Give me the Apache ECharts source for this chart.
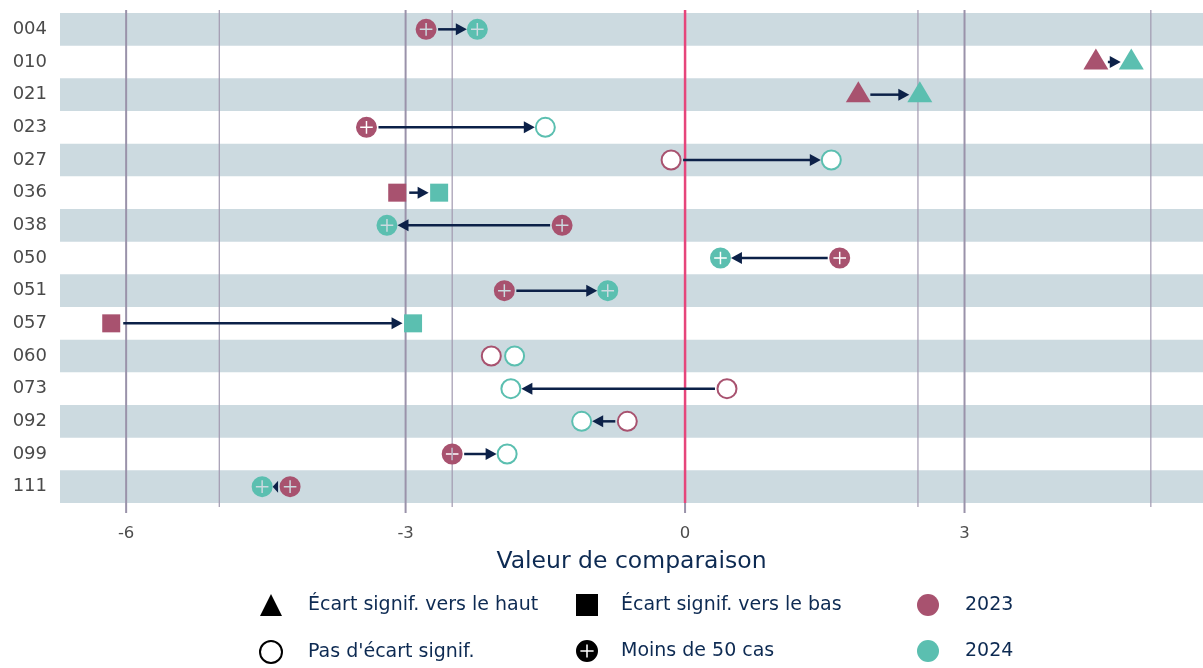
<!DOCTYPE html>
<html>
<head>
<meta charset="utf-8">
<script src="https://cdn.jsdelivr.net/npm/echarts@6/dist/echarts.min.js"></script>
<style>
    html, body { margin: 0; padding: 0; background: #fff; }
    #chart { width: 1203px; height: 668px; }
</style>
</head>
<body>
<div id="chart"></div>
<script>
    // données
    var categories = ['004', '010', '021', '023', '027', '036', '038', '050', '051', '057', '060', '073', '092', '099', '111'];
    var val2023 = [-2.78, 4.41, 1.86, -3.42, -0.15, -3.09, -1.32, 1.66, -1.94, -6.16, -2.08, 0.45, -0.62, -2.50, -4.24];
    var val2024 = [-2.23, 4.79, 2.52, -1.50, 1.57, -2.64, -3.20, 0.38, -0.83, -2.92, -1.83, -1.87, -1.11, -1.91, -4.54];
    // up = écart vers le haut, down = vers le bas, ns = pas d'écart, few = moins de 50 cas
    var type2023 = ['few', 'up', 'up', 'few', 'ns', 'down', 'few', 'few', 'few', 'down', 'ns', 'ns', 'ns', 'few', 'few'];
    var type2024 = ['few', 'up', 'up', 'ns', 'ns', 'down', 'few', 'few', 'few', 'down', 'ns', 'ns', 'ns', 'ns', 'few'];
    var tickValues = [-6, -3, 0, 3];
    var minorLines = [-5, -2.5, 2.5, 5];

    var col2023 = '#a8526f';
    var col2024 = '#5bbfb0';
    var arrowCol = '#0c2148';
    var fontFam = 'DejaVu Sans';
    var plusPath = 'path://M50,0A50,50,0,1,1,50,100A50,50,0,1,1,50,0Z' +
        'M46.5,20L46.5,46.5L20,46.5L20,53.5L46.5,53.5L46.5,80L53.5,80L53.5,53.5L80,53.5L80,46.5L53.5,46.5L53.5,20Z';

    var typeNames = {
        up: 'Écart signif. vers le haut',
        down: 'Écart signif. vers le bas',
        ns: "Pas d'écart signif.",
        few: 'Moins de 50 cas'
    };

    function markerItem(v, i, t, color) {
        var item = { value: [v, categories[i]] };
        if (t === 'up') {
            item.symbol = 'triangle';
            item.symbolSize = [25, 21];
            item.symbolOffset = [0, -3];
        } else if (t === 'down') {
            item.symbol = 'rect';
            item.symbolSize = 18;
        } else if (t === 'ns') {
            item.symbol = 'circle';
            item.symbolSize = 19;
            item.itemStyle = { color: '#fff', borderColor: color, borderWidth: 2, opacity: 1 };
        } else {
            item.symbol = plusPath;
            item.symbolSize = 21;
        }
        return item;
    }

    function buildMarkers(vals, types, color) {
        var out = [];
        for (var i = 0; i < vals.length; i++) {
            out.push(markerItem(vals[i], i, types[i], color));
        }
        return out;
    }

    var arrowData = [];
    for (var i = 0; i < categories.length; i++) {
        arrowData.push([val2023[i], val2024[i], i]);
    }

    var lineData = [];
    tickValues.forEach(function (v) { lineData.push([v, v === 0 ? 'zero' : 'major']); });
    minorLines.forEach(function (v) { lineData.push([v, 'minor']); });

    var chart = echarts.init(document.getElementById('chart'));

    var legendText = { color: '#0d2a52', fontSize: 19, fontFamily: fontFam };

    function legendBlock(left, items, gap) {
        return {
            left: left, top: 594, orient: 'vertical', itemGap: 24, padding: 0,
            itemWidth: 22, itemHeight: 22, selectedMode: false,
            data: items,
            textStyle: Object.assign({ padding: [0, 0, 0, gap] }, legendText)
        };
    }

    var black = { color: '#000', borderColor: '#000', opacity: 1 };
    var hollow = { color: '#fff', borderColor: '#000', borderWidth: 2, opacity: 1 };

    var option = {
        animation: false,
        textStyle: { fontFamily: fontFam },
        grid: { left: 60, right: 0, top: 13, bottom: 165 },
        xAxis: {
            type: 'value',
            min: -6.71,
            max: 5.56,
            name: 'Valeur de comparaison',
            nameLocation: 'middle',
            nameGap: 47,
            nameTextStyle: { color: '#0d2a52', fontSize: 23.5, fontFamily: fontFam },
            axisLine: { show: false },
            axisTick: { show: false },
            splitLine: { show: false },
            axisLabel: {
                customValues: tickValues,
                color: '#4d4d4d',
                fontSize: 16.5,
                margin: 22
            }
        },
        yAxis: {
            type: 'category',
            data: categories,
            inverse: true,
            axisLine: { show: false },
            axisTick: { show: false },
            splitLine: { show: false },
            splitArea: {
                show: true,
                areaStyle: { color: ['#ccdae0', 'rgba(255,255,255,0)'] }
            },
            axisLabel: { color: '#4a4a4a', fontSize: 18, margin: 13 }
        },
        legend: [
            legendBlock(259, [
                { name: typeNames.up, icon: 'triangle', itemStyle: black },
                { name: typeNames.ns, icon: 'circle', itemStyle: hollow }
            ], 21),
            legendBlock(576, [
                { name: typeNames.down, icon: 'rect', itemStyle: black },
                { name: typeNames.few, icon: plusPath, itemStyle: black }
            ], 18),
            legendBlock(917, [
                { name: '2023', icon: 'circle', itemStyle: { color: col2023, opacity: 1 } },
                { name: '2024', icon: 'circle', itemStyle: { color: col2024, opacity: 1 } }
            ], 21)
        ],
        series: [
            {
                // lignes verticales de référence
                type: 'custom',
                silent: true,
                z: 1,
                data: lineData,
                renderItem: function (params, api) {
                    var x = api.coord([api.value(0), 0])[0];
                    var cs = params.coordSys;
                    var kind = lineData[params.dataIndex][1];
                    var top = cs.y - 3;
                    var bottom = cs.y + cs.height;
                    if (kind === 'minor') {
                        return { type: 'line', shape: { x1: x, y1: top, x2: x, y2: bottom + 4 },
                            style: { stroke: '#a199b0', lineWidth: 1.2 } };
                    }
                    var children = [{ type: 'line', shape: { x1: x, y1: top, x2: x, y2: bottom + 10 },
                        style: { stroke: '#9a92aa', lineWidth: 2 } }];
                    if (kind === 'zero') {
                        children = [
                            { type: 'line', shape: { x1: x, y1: bottom, x2: x, y2: bottom + 10 },
                                style: { stroke: '#9a92aa', lineWidth: 2 } },
                            { type: 'line', shape: { x1: x, y1: top, x2: x, y2: bottom },
                                style: { stroke: '#e6457b', lineWidth: 2.5 } }
                        ];
                    }
                    return { type: 'group', children: children };
                }
            },
            {
                // flèches 2023 -> 2024
                type: 'custom',
                silent: true,
                z: 2,
                data: arrowData,
                renderItem: function (params, api) {
                    var row = categories[api.value(2)];
                    var p1 = api.coord([api.value(0), row]);
                    var p2 = api.coord([api.value(1), row]);
                    var d = p2[0] >= p1[0] ? 1 : -1;
                    var x1 = p1[0] + d * 12;
                    var x2 = p2[0] - d * 10.5;
                    var len = (x2 - x1) * d;
                    if (len < 3) return null;
                    var y = p1[1];
                    var headLen = Math.min(11, len);
                    var headW = 6;
                    var base = x2 - d * headLen;
                    var children = [];
                    if (len > headLen) {
                        children.push({ type: 'line', shape: { x1: x1, y1: y, x2: base + d, y2: y },
                            style: { stroke: arrowCol, lineWidth: 2.5 } });
                    }
                    children.push({ type: 'polygon',
                        shape: { points: [[x2, y], [base, y - headW], [base, y + headW]] },
                        style: { fill: arrowCol } });
                    return { type: 'group', children: children };
                }
            },
            {
                name: '2023',
                type: 'scatter',
                z: 3,
                itemStyle: { color: col2023, opacity: 1 },
                data: buildMarkers(val2023, type2023, col2023)
            },
            {
                name: '2024',
                type: 'scatter',
                z: 3,
                itemStyle: { color: col2024, opacity: 1 },
                data: buildMarkers(val2024, type2024, col2024)
            },
            // séries vides pour la légende des formes
            { name: typeNames.up, type: 'scatter', data: [], symbol: 'triangle', itemStyle: black },
            { name: typeNames.ns, type: 'scatter', data: [], symbol: 'circle', itemStyle: hollow },
            { name: typeNames.down, type: 'scatter', data: [], symbol: 'rect', itemStyle: black },
            { name: typeNames.few, type: 'scatter', data: [], symbol: plusPath, itemStyle: black }
        ]
    };

    chart.setOption(option);
</script>
</body>
</html>
